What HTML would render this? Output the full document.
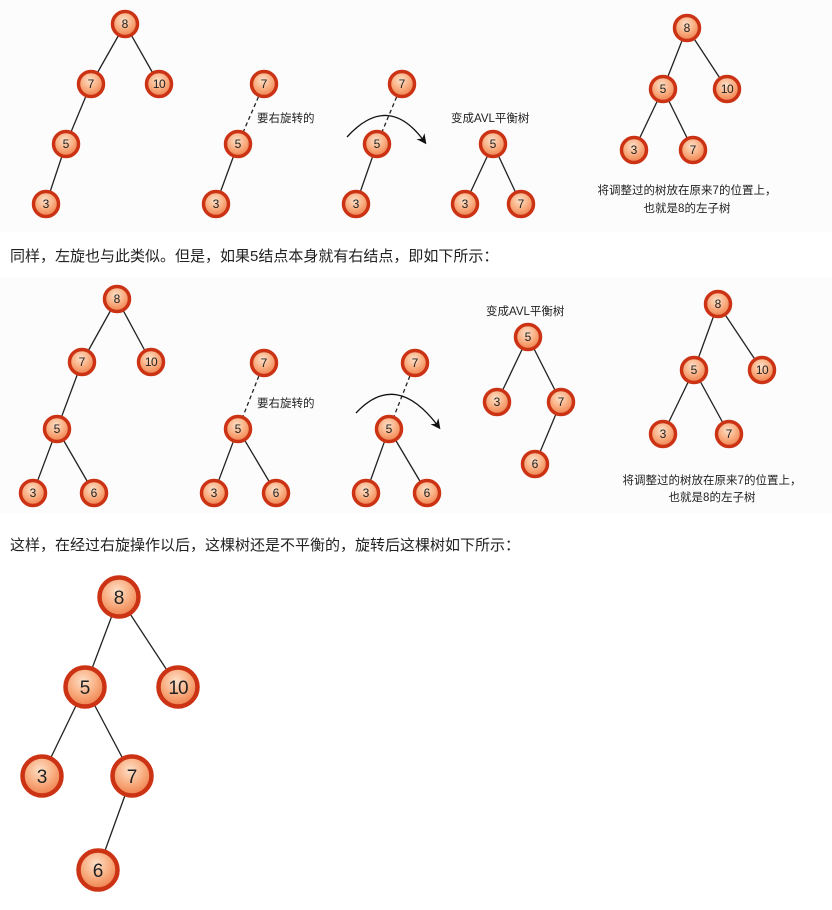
<!DOCTYPE html>
<html><head><meta charset="utf-8"><style>
body{margin:0;background:#fff;width:832px;height:910px;overflow:hidden}
svg{display:block}
text{font-family:"Liberation Sans","Noto Sans CJK SC",sans-serif;fill:#222}
</style></head><body>
<svg width="832" height="910" viewBox="0 0 832 910" xmlns="http://www.w3.org/2000/svg">
<defs>
<radialGradient id="g" cx="45%" cy="35%" r="65%">
<stop offset="0" stop-color="#fde0c8"/><stop offset="0.55" stop-color="#f9ad80"/><stop offset="1" stop-color="#ee7f4c"/>
</radialGradient>
<marker id="ah" markerWidth="10" markerHeight="10" refX="6" refY="5" orient="auto" markerUnits="userSpaceOnUse">
<path d="M0,0 L10,5 L0,10 L3,5 Z" fill="#111"/></marker>
</defs>
<rect x="0" y="0" width="832" height="232" fill="#fcfcfc"/>
<rect x="0" y="278" width="832" height="235" fill="#fcfcfc"/>
<g stroke="#222" stroke-width="1.3">
<line x1="125" y1="24" x2="91" y2="84"/><line x1="125" y1="24" x2="159" y2="84"/>
<line x1="91" y1="84" x2="66" y2="144"/><line x1="66" y1="144" x2="46" y2="204"/>
<line x1="264" y1="84" x2="238" y2="144" stroke-dasharray="4,3"/><line x1="238" y1="144" x2="216" y2="204"/>
<line x1="402" y1="84" x2="377" y2="144" stroke-dasharray="4,3"/><line x1="377" y1="144" x2="356" y2="204"/>
<line x1="493" y1="144" x2="465" y2="204"/><line x1="493" y1="144" x2="521" y2="204"/>
<line x1="687" y1="28" x2="663" y2="89"/><line x1="687" y1="28" x2="727" y2="89"/>
<line x1="663" y1="89" x2="634" y2="150"/><line x1="663" y1="89" x2="693" y2="150"/>
<line x1="117" y1="299" x2="82" y2="362"/><line x1="117" y1="299" x2="151" y2="362"/>
<line x1="82" y1="362" x2="57" y2="429"/><line x1="57" y1="429" x2="33" y2="493"/><line x1="57" y1="429" x2="94" y2="493"/>
<line x1="264" y1="363" x2="238" y2="429" stroke-dasharray="4,3"/><line x1="238" y1="429" x2="214" y2="493"/><line x1="238" y1="429" x2="276" y2="493"/>
<line x1="415" y1="363" x2="389" y2="429" stroke-dasharray="4,3"/><line x1="389" y1="429" x2="366" y2="493"/><line x1="389" y1="429" x2="427" y2="493"/>
<line x1="528" y1="337" x2="497" y2="402"/><line x1="528" y1="337" x2="561" y2="402"/><line x1="561" y1="402" x2="535" y2="464"/>
<line x1="718" y1="304" x2="694" y2="370"/><line x1="718" y1="304" x2="762" y2="370"/>
<line x1="694" y1="370" x2="663" y2="434"/><line x1="694" y1="370" x2="729" y2="434"/>
<line x1="119" y1="597" x2="85" y2="687"/><line x1="119" y1="597" x2="178" y2="687"/>
<line x1="85" y1="687" x2="42" y2="776"/><line x1="85" y1="687" x2="132" y2="776"/><line x1="132" y1="776" x2="98" y2="870"/>
</g>
<g fill="none" stroke="#111" stroke-width="1.3">
<path d="M347,137 Q388,92 424,141" marker-end="url(#ah)"/>
<path d="M356,413 Q396,370 438,426" marker-end="url(#ah)"/>
</g>
<g stroke="#cc3314" stroke-width="3.5" fill="url(#g)">
<circle cx="125" cy="24" r="12.5"/><circle cx="91" cy="84" r="12.5"/><circle cx="159" cy="84" r="12.5"/><circle cx="66" cy="144" r="12.5"/><circle cx="46" cy="204" r="12.5"/>
<circle cx="264" cy="84" r="12.5"/><circle cx="238" cy="144" r="12.5"/><circle cx="216" cy="204" r="12.5"/>
<circle cx="402" cy="84" r="12.5"/><circle cx="377" cy="144" r="12.5"/><circle cx="356" cy="204" r="12.5"/>
<circle cx="493" cy="144" r="12.5"/><circle cx="465" cy="204" r="12.5"/><circle cx="521" cy="204" r="12.5"/>
<circle cx="687" cy="28" r="12.5"/><circle cx="663" cy="89" r="12.5"/><circle cx="727" cy="89" r="12.5"/><circle cx="634" cy="150" r="12.5"/><circle cx="693" cy="150" r="12.5"/>
<circle cx="117" cy="299" r="12.5"/><circle cx="82" cy="362" r="12.5"/><circle cx="151" cy="362" r="12.5"/><circle cx="57" cy="429" r="12.5"/><circle cx="33" cy="493" r="12.5"/><circle cx="94" cy="493" r="12.5"/>
<circle cx="264" cy="363" r="12.5"/><circle cx="238" cy="429" r="12.5"/><circle cx="214" cy="493" r="12.5"/><circle cx="276" cy="493" r="12.5"/>
<circle cx="415" cy="363" r="12.5"/><circle cx="389" cy="429" r="12.5"/><circle cx="366" cy="493" r="12.5"/><circle cx="427" cy="493" r="12.5"/>
<circle cx="528" cy="337" r="12.5"/><circle cx="497" cy="402" r="12.5"/><circle cx="561" cy="402" r="12.5"/><circle cx="535" cy="464" r="12.5"/>
<circle cx="718" cy="304" r="12.5"/><circle cx="694" cy="370" r="12.5"/><circle cx="762" cy="370" r="12.5"/><circle cx="663" cy="434" r="12.5"/><circle cx="729" cy="434" r="12.5"/>
</g>
<g stroke="#cc3314" stroke-width="4.5" fill="url(#g)">
<circle cx="119" cy="597" r="19.5"/><circle cx="85" cy="687" r="19.5"/><circle cx="178" cy="687" r="19.5"/><circle cx="42" cy="776" r="19.5"/><circle cx="132" cy="776" r="19.5"/><circle cx="98" cy="870" r="19.5"/>
</g>
<g font-size="12" text-anchor="middle">
<text x="125" y="28">8</text><text x="91" y="88">7</text><text x="159" y="88" letter-spacing="-0.5">10</text><text x="66" y="148">5</text><text x="46" y="208">3</text>
<text x="264" y="88">7</text><text x="238" y="148">5</text><text x="216" y="208">3</text>
<text x="402" y="88">7</text><text x="377" y="148">5</text><text x="356" y="208">3</text>
<text x="493" y="148">5</text><text x="465" y="208">3</text><text x="521" y="208">7</text>
<text x="687" y="32">8</text><text x="663" y="93">5</text><text x="727" y="93" letter-spacing="-0.5">10</text><text x="634" y="154">3</text><text x="693" y="154">7</text>
<text x="117" y="303">8</text><text x="82" y="366">7</text><text x="151" y="366" letter-spacing="-0.5">10</text><text x="57" y="433">5</text><text x="33" y="497">3</text><text x="94" y="497">6</text>
<text x="264" y="367">7</text><text x="238" y="433">5</text><text x="214" y="497">3</text><text x="276" y="497">6</text>
<text x="415" y="367">7</text><text x="389" y="433">5</text><text x="366" y="497">3</text><text x="427" y="497">6</text>
<text x="528" y="341">5</text><text x="497" y="406">3</text><text x="561" y="406">7</text><text x="535" y="468">6</text>
<text x="718" y="308">8</text><text x="694" y="374">5</text><text x="762" y="374" letter-spacing="-0.5">10</text><text x="663" y="438">3</text><text x="729" y="438">7</text>
</g>
<g font-size="19" text-anchor="middle">
<text x="119" y="604">8</text><text x="85" y="694">5</text><text x="178" y="694" letter-spacing="-1">10</text><text x="42" y="783">3</text><text x="132" y="783">7</text><text x="98" y="877">6</text>
</g>
<g font-size="11.5">
<text x="257" y="122">要右旋转的</text>
<text x="451" y="122">变成AVL平衡树</text>
<text x="257" y="407">要右旋转的</text>
<text x="486" y="315">变成AVL平衡树</text>
<text x="687" y="194" text-anchor="middle">将调整过的树放在原来7的位置上，</text>
<text x="687" y="212" text-anchor="middle">也就是8的左子树</text>
<text x="712" y="484" text-anchor="middle">将调整过的树放在原来7的位置上，</text>
<text x="712" y="501" text-anchor="middle">也就是8的左子树</text>
</g>
<g font-size="15">
<text x="10" y="261">同样，左旋也与此类似。但是，如果5结点本身就有右结点，即如下所示：</text>
<text x="10" y="550">这样，在经过右旋操作以后，这棵树还是不平衡的，旋转后这棵树如下所示：</text>
</g>
</svg>
</body></html>
